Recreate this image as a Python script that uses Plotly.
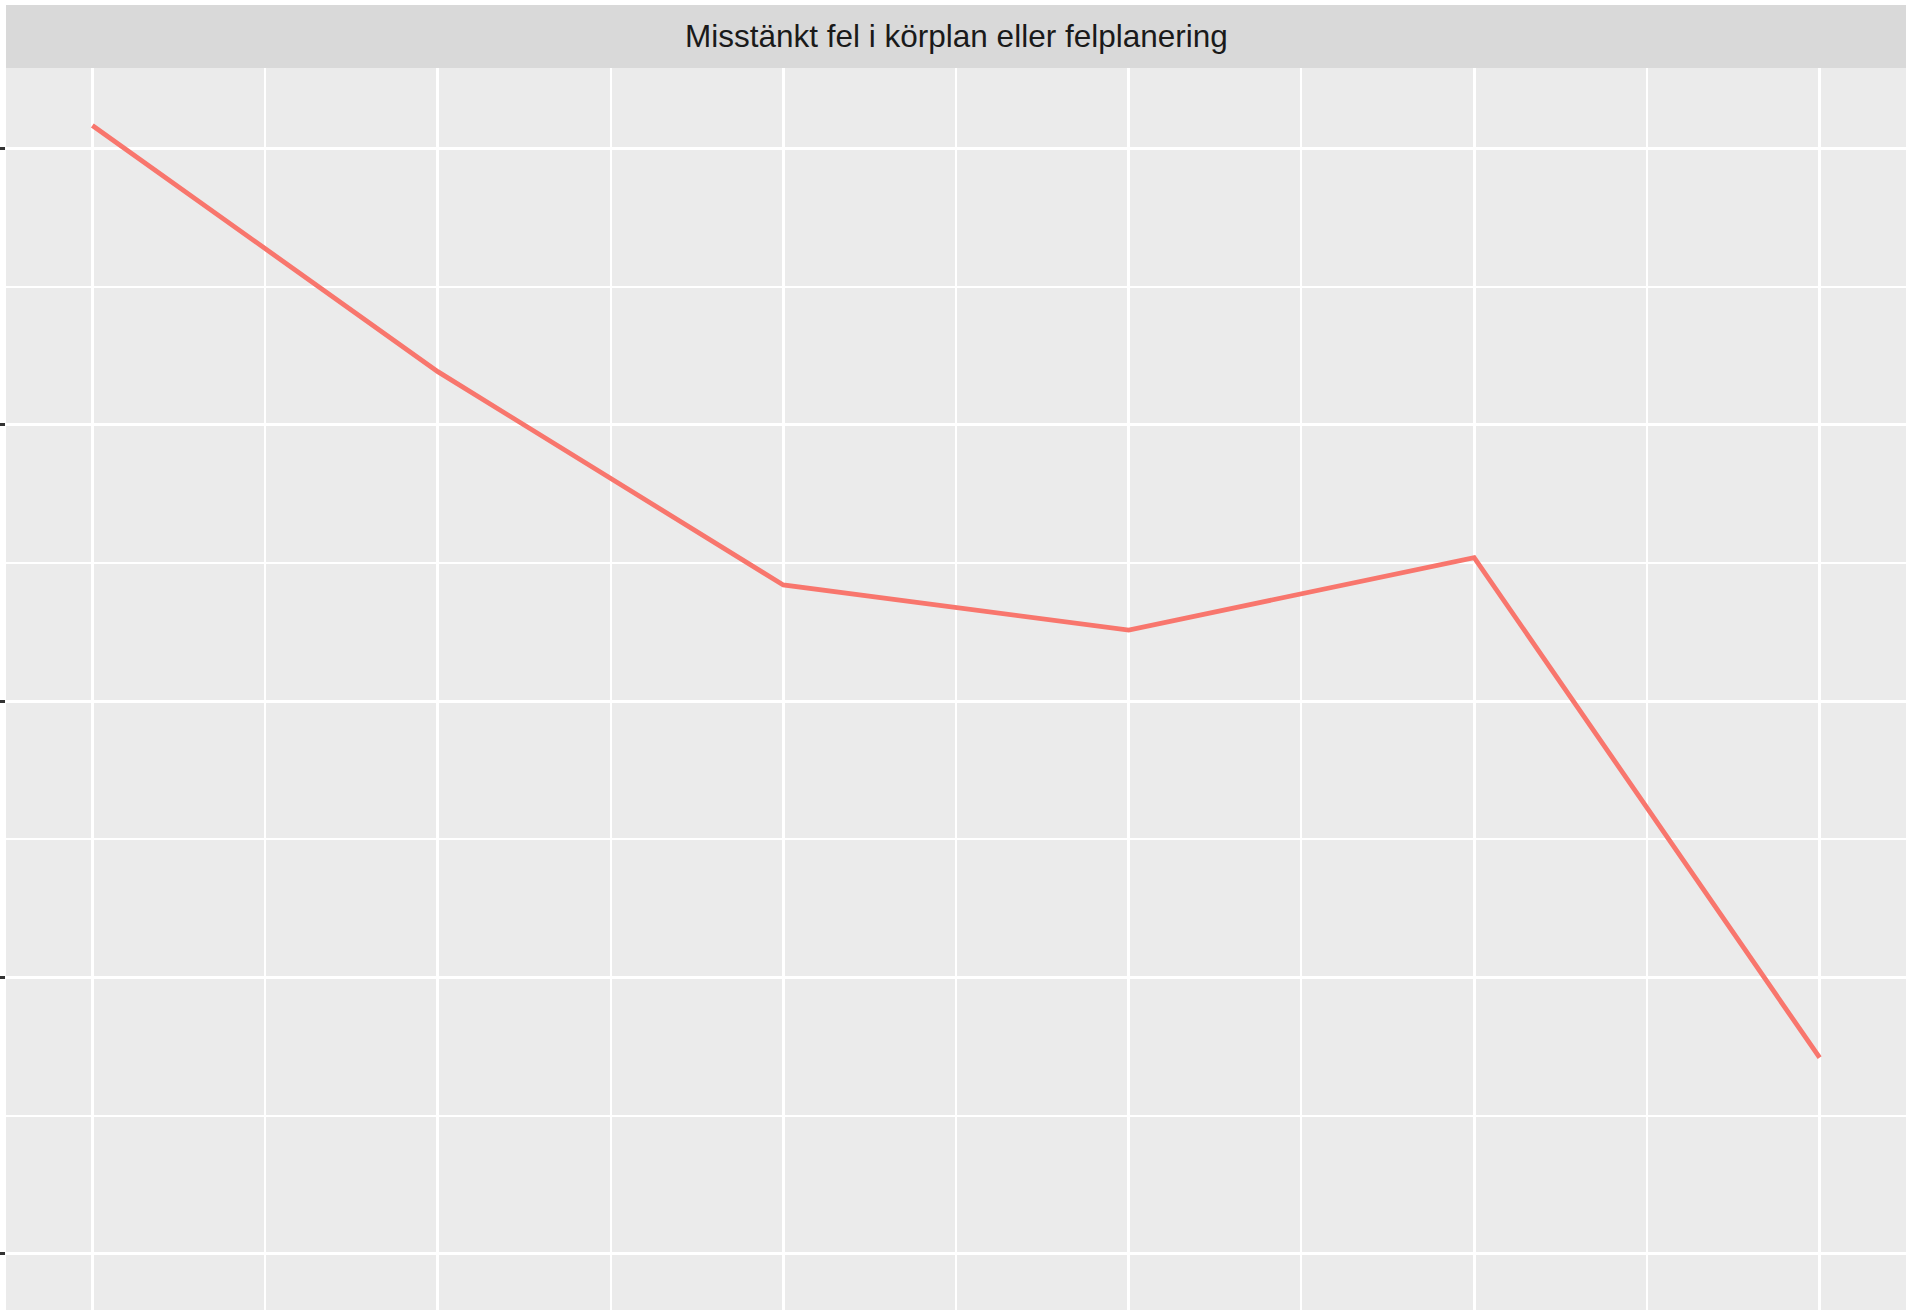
import plotly.graph_objects as go

# Data (axis labels are not shown in the reference)
periods = [1, 2, 3, 4, 5, 6]
values = [4.084, 3.193, 2.421, 2.258, 2.520, 0.710]
panel_title = "Misstänkt fel i körplan eller felplanering"

W, H = 1908, 1311
ml, mr, mt, mb = 6, 2, 68, 1
plot_h = H - mt - mb

fig = go.Figure()
fig.add_trace(go.Scatter(
    x=periods, y=values, mode="lines",
    line=dict(color="#F8766D", width=4.8),
    hoverinfo="skip", showlegend=False,
))

axis_common = dict(
    automargin=False,
    showgrid=True, gridcolor="white", gridwidth=3.4,
    zeroline=False, showline=False,
    ticks="outside", ticklen=6, tickwidth=3, tickcolor="#333333",
    showticklabels=False,
    minor=dict(dtick=0.5, showgrid=True, gridcolor="white", gridwidth=1.7, ticks=""),
)

fig.update_xaxes(range=[0.75, 6.25], tick0=0, dtick=1, **axis_common)
fig.update_yaxes(range=[-0.203, 4.292], tick0=0, dtick=1, **axis_common)

# facet strip
fig.add_shape(type="rect", xref="paper", yref="paper",
              x0=0, x1=1, y0=1, y1=1 + 63 / plot_h,
              fillcolor="#D9D9D9", line=dict(width=0), layer="below")
fig.add_annotation(text=panel_title, xref="paper", yref="paper",
                   x=0.5, y=1 + 32 / plot_h, xanchor="center", yanchor="middle",
                   showarrow=False,
                   font=dict(family="Liberation Sans, Arial, sans-serif", size=31.5, color="#1A1A1A"))

fig.update_layout(
    width=W, height=H,
    margin=dict(l=ml, r=mr, t=mt, b=mb, pad=0, autoexpand=False),
    plot_bgcolor="#EBEBEB", paper_bgcolor="white",
    showlegend=False,
)

fig.write_html("out.html", config={"displayModeBar": False},
               post_script="document.body.style.margin='0';document.body.style.overflow='hidden';")
